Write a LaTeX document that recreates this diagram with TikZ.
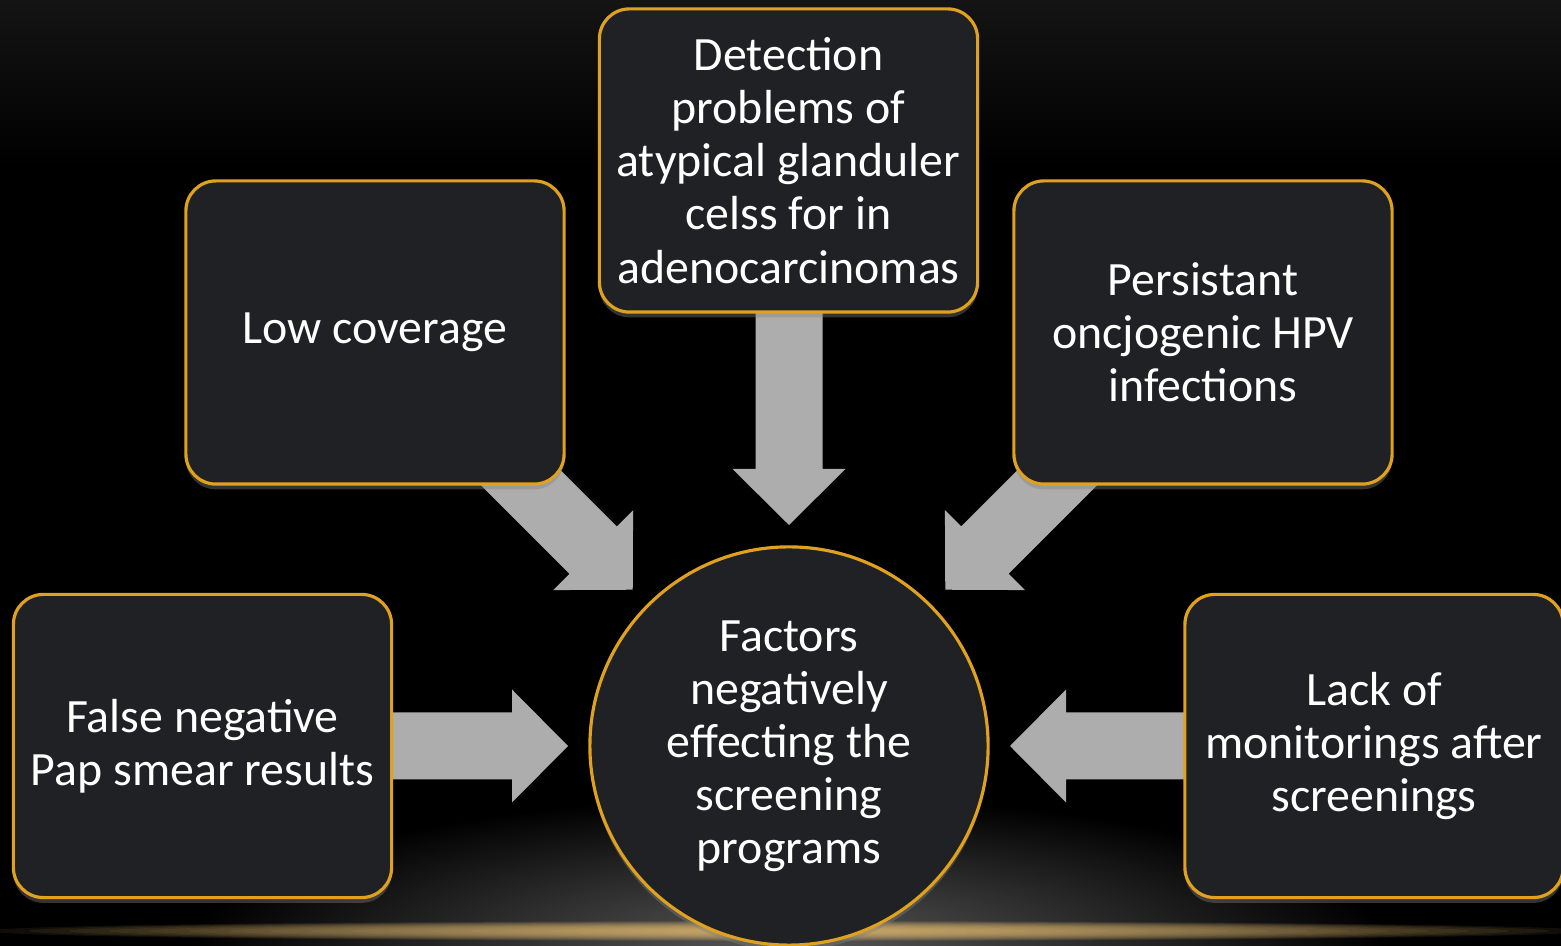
\documentclass[tikz,border=0pt]{standalone}
\usepackage{fontspec}
\setmainfont{Carlito}
\usetikzlibrary{positioning,calc,shadows}
\pgfdeclarelayer{backdrop}
\pgfdeclarelayer{arrows}
\pgfsetlayers{backdrop,arrows,main}
\definecolor{boxfill}{HTML}{202124}
\definecolor{boxline}{HTML}{E0A21E}
\definecolor{arrowgray}{HTML}{ADADAD}
\definecolor{glowgray}{HTML}{585858}
\definecolor{glowline}{HTML}{F2C676}
\definecolor{topgray}{HTML}{141414}
\tikzset{
  factorbox/.style={draw=boxline, line width=0.9pt, fill=boxfill, rounded corners=0.3cm,
    minimum width=3.78cm, minimum height=3.03cm, align=center, text=white,
    font=\fontsize{13.6}{15.1}\selectfont,
    drop shadow={opacity=0.4, shadow xshift=0pt, shadow yshift=-1.5pt}},
  hubcircle/.style={circle, draw=boxline, line width=0.9pt, fill=boxfill,
    minimum size=3.98cm, inner sep=0pt, align=center, text=white,
    font=\fontsize{13.6}{15.1}\selectfont,
    drop shadow={opacity=0.4, shadow xshift=0pt, shadow yshift=-1.5pt}},
  blockarrow/.pic={
    \fill[arrowgray] (0,0) -- (-56,56.5) -- (-56,33.5) -- (-#1,33.5)
      -- (-#1,-33.5) -- (-56,-33.5) -- (-56,-56.5) -- cycle;
  },
}
\begin{document}
\begin{tikzpicture}[x=0.01cm, y=0.01cm]
	\useasboundingbox (0,0) rectangle (1561,946);
	% backdrop and glow
	\begin{pgfonlayer}{backdrop}
	\fill[black] (0,0) rectangle (1561,946);
	\shade[top color=topgray, bottom color=black] (0,780) rectangle (1561,946);
	\shade[inner color=glowgray, outer color=black] (789,0) ellipse (600 and 150);
	\foreach \w in {1,...,20}
		\fill[glowline, opacity=0.07] (789,15) ellipse ({40*\w} and {0.45*\w+1});
	\end{pgfonlayer}
	% nodes
	\node[hubcircle] (factors) at (789,200) {Factors\\negatively\\effecting the\\screening\\programs};
	\node[factorbox] (detect) at (788.5,785.5) {Detection\\problems of\\atypical glanduler\\celss for in\\adenocarcinomas};
	\node[factorbox] (lowcov) at (375,613.5) {Low coverage};
	\node[factorbox] (persist) at (1203,613.5) {Persistant\\oncjogenic HPV\\infections};
	\node[factorbox] (falseneg) at (202.5,200) {False negative\\Pap smear results};
	\node[factorbox] (lackmon) at (1374,200) {Lack of\\monitorings after\\screenings};
	% block arrows
	\begin{pgfonlayer}{arrows}
	\pic[rotate=0] at ($(factors.center)+(180:221)$) {blockarrow=185};
	\pic[rotate=180] at ($(factors.center)+(0:221)$) {blockarrow=185};
	\pic[rotate=-90] at ($(factors.center)+(90:221)$) {blockarrow=225};
	\pic[rotate=-45] at ($(factors.center)+(135:221)$) {blockarrow=240};
	\pic[rotate=-135] at ($(factors.center)+(45:221)$) {blockarrow=240};
	\end{pgfonlayer}
\end{tikzpicture}
\end{document}
